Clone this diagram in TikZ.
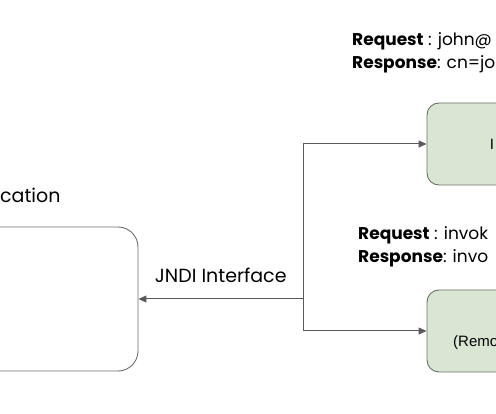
\documentclass[tikz,border=0pt]{standalone}
\usepackage{fontspec}
\setmainfont{Liberation Sans}
\newfontfamily\handfont{Poppins}
\usetikzlibrary{arrows.meta, positioning}

\definecolor{boxfill}{HTML}{D8E6D3}
\definecolor{boxline}{HTML}{6B6F69}
\definecolor{linkgray}{HTML}{595959}

\begin{document}
\begin{tikzpicture}
			[x=1pt, y=-1pt,
			appbox/.style={draw=boxline, line width=0.9pt, rounded corners=20pt, minimum width=248pt, minimum height=144pt, inner sep=0pt},
			serverbox/.style={draw=boxline, fill=boxfill, line width=0.9pt, rounded corners=12pt, minimum width=130pt, minimum height=82pt, inner sep=0pt, font=\fontsize{15}{18}\selectfont},
			link/.style={draw=linkgray, line width=1pt, -{Triangle[length=8pt, width=7pt]}},
			note/.style={font=\handfont\fontsize{19}{20}\selectfont, align=left, inner sep=0pt},
			reqnote/.style={note, font=\handfont\fontsize{17}{23}\selectfont}]
			\useasboundingbox (0,0) rectangle (496,414);
			\clip (0,0) rectangle (496,414);
			% boxes
			\node[appbox] (app) at (14,299) {};
			\node[serverbox] (ldap) at (492,144) {I};
			\node[serverbox] (rmi) at (492,331) {};
			\node[anchor=west, font=\fontsize{15}{18}\selectfont, inner sep=0pt] (rmilabel) at (453,343) {(Remo};
			% texts
			\node[note, anchor=base west] (applabel) at (0,203) {cation};
			\node[reqnote, anchor=base west] (ldapnote) at (352,69) {\textbf{Request} : john@\\\textbf{Response}: cn=jo};
			\node[reqnote, anchor=base west] (rminote) at (358,263) {\textbf{Request} : invok\\\textbf{Response}: invo};
			% connectors
			\coordinate (split) at (303,299);
			\draw[link] (split) -- node[note, above=16pt] (jndi) {JNDI Interface} (app);
			\draw[link] (split) |- (ldap);
			\draw[link] (split) |- (rmi);
		\end{tikzpicture}
\end{document}
